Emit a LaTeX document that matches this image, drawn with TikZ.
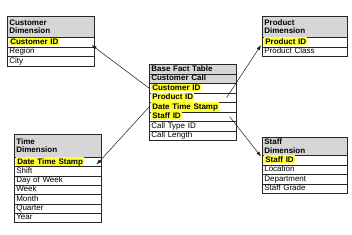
\documentclass[tikz,border=0pt]{standalone}
\usepackage{fontspec}
\setmainfont{Liberation Sans}
\usetikzlibrary{arrows.meta}
\definecolor{hdrgray}{HTML}{D6D6D6}
\definecolor{hlyellow}{HTML}{FFFF33}
\newcommand\hlt[1]{{\setlength\fboxsep{1pt}\colorbox{hlyellow}{\textbf{#1}}}}
\tikzset{
  boxbase/.style={draw=black!85, line width=0.65pt, anchor=north west,
    inner xsep=2pt, inner ysep=0pt, align=left, font=\fontsize{8}{8.5}\selectfont},
  cell/.style={boxbase, minimum height=9.5pt, text height=6pt, text depth=1.8pt},
  hdrone/.style={cell, fill=hdrgray, font=\fontsize{8}{8.5}\selectfont\bfseries},
  hdr/.style={boxbase, fill=hdrgray, inner ysep=1pt, font=\fontsize{8}{8.6}\selectfont\bfseries},
  conn/.style={draw=black!90, line width=0.5pt, -{Latex[length=5pt,width=3.6pt]}},
}
\begin{document}
\begin{tikzpicture}[x=1pt,y=-1pt]
\useasboundingbox (0,0) rectangle (352,234);
\fill[white] (0,0) rectangle (352,234);
% Customer Dimension
\node[hdr, text width=83pt, minimum height=21pt] (custH) at (7,16) {Customer\\Dimension};
\node[cell, text width=83pt] (custID) at (7,37) {\hlt{Customer ID}};
\node[cell, text width=83pt] (custReg) at (7,46.5) {Region};
\node[cell, text width=83pt] (custCity) at (7,56) {City};
% Product Dimension
\node[hdr, text width=81pt, minimum height=21pt] (prodH) at (262,16) {Product\\Dimension};
\node[cell, text width=81pt] (prodID) at (262,37) {\hlt{Product ID}};
\node[cell, text width=81pt] (prodCls) at (262,46.5) {Product Class};
% Base Fact Table
\node[hdrone, text width=83pt] (factH) at (149,64) {Base Fact Table};
\node[hdrone, text width=83pt] (factCC) at (149,73.5) {Customer Call};
\node[cell, text width=83pt] (factCust) at (149,83) {\hlt{Customer ID}};
\node[cell, text width=83pt] (factProd) at (149,92.5) {\hlt{Product ID}};
\node[cell, text width=83pt] (factDate) at (149,102) {\hlt{Date Time Stamp}};
\node[cell, text width=83pt] (factStaff) at (149,111.5) {\hlt{Staff ID}};
\node[cell, text width=83pt] (factType) at (149,121) {Call Type ID};
\node[cell, text width=83pt] (factLen) at (149,130.5) {Call Length};
% Time Dimension
\node[hdr, text width=83pt, minimum height=23pt] (timeH) at (14,134) {Time\\Dimension};
\node[cell, text width=83pt, minimum height=9.3pt] (timeDate) at (14,157) {\hlt{Date Time Stamp}};
\node[cell, text width=83pt, minimum height=9.3pt] (timeShift) at (14,166.3) {Shift};
\node[cell, text width=83pt, minimum height=9.3pt] (timeDay) at (14,175.6) {Day of Week};
\node[cell, text width=83pt, minimum height=9.3pt] (timeWeek) at (14,184.9) {Week};
\node[cell, text width=83pt, minimum height=9.3pt] (timeMonth) at (14,194.2) {Month};
\node[cell, text width=83pt, minimum height=9.3pt] (timeQ) at (14,203.5) {Quarter};
\node[cell, text width=83pt, minimum height=9.3pt] (timeYear) at (14,212.8) {Year};
% Staff Dimension
\node[hdr, text width=81pt, minimum height=18pt] (staffH) at (262,137) {Staff\\Dimension};
\node[cell, text width=81pt] (staffID) at (262,155) {\hlt{Staff ID}};
\node[cell, text width=81pt] (staffLoc) at (262,164.5) {Location};
\node[cell, text width=81pt] (staffDep) at (262,174) {Department};
\node[cell, text width=81pt] (staffGr) at (262,183.5) {Staff Grade};
% connector end points
\coordinate (custTip) at ([shift={(-3,3)}]custID.east);
\coordinate (prodStart) at ([xshift=-10pt]factProd.east);
\coordinate (prodTip) at ([shift={(-1,3)}]prodID.west);
\coordinate (timeTip) at ([shift={(-5,2.5)}]timeDate.east);
\coordinate (staffStart) at ([shift={(-7,0)}]factStaff.east);
\coordinate (staffTip) at ([shift={(-1,1.5)}]staffID.north west);
% connectors
\draw[conn] (factCust.west) -- (custTip);
\draw[conn] (prodStart) -- (prodTip);
\draw[conn] (factDate.west) -- (timeTip);
\draw[conn] (staffStart) -- (staffTip);
\end{tikzpicture}
\end{document}
